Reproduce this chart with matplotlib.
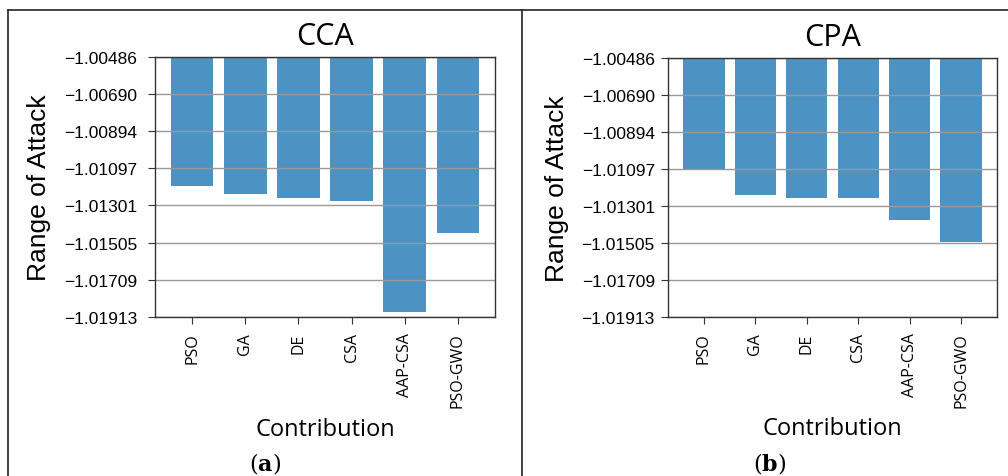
import numpy as np
import matplotlib
matplotlib.use('Agg')
import matplotlib.pyplot as plt
from matplotlib.lines import Line2D

plt.rcParams['mathtext.fontset'] = 'dejavuserif'

methods = ['PSO', 'GA', 'DE', 'CSA', 'AAP-CSA', 'PSO-GWO']
cca = [-1.01194, -1.01238, -1.01260, -1.01276, -1.01886, -1.01452]
cpa = [-1.01095, -1.01243, -1.01260, -1.01260, -1.01381, -1.01501]
yticks = [-1.00486, -1.00690, -1.00894, -1.01097, -1.01301, -1.01505, -1.01709, -1.01913]
ytick_labels = ['\u2212%.5f' % abs(v) for v in yticks]

W, H = 1008, 477
fig = plt.figure(figsize=(W / 100, H / 100), dpi=100)


def px(x0, y0, x1, y1):
    # pixel box -> figure fraction [left, bottom, width, height]
    return [x0 / W, 1 - y1 / H, (x1 - x0) / W, (y1 - y0) / H]


def panel(rect, vals, title, ypad, label_x):
    ax = fig.add_axes(rect)
    x = np.arange(len(methods))
    ax.bar(x, vals, width=0.8, color='#1f77b4', alpha=0.8, linewidth=0)
    ax.set_xlim(-0.7, len(methods) - 0.3)
    ax.set_ylim(yticks[-1], yticks[0])
    ax.set_yticks(yticks)
    ax.set_yticklabels(ytick_labels, family='Liberation Sans', fontsize=12.5)
    ax.set_xticks(x)
    ax.set_xticklabels(methods, rotation=90, family='Open Sans', fontsize=11.5)
    ax.tick_params(axis='y', pad=ypad, length=5, color='#333333')
    ax.tick_params(axis='x', pad=6, length=5, color='#333333')
    ax.yaxis.grid(True, color='#999999', linewidth=1.0)
    for s in ax.spines.values():
        s.set_color('#333333')
        s.set_linewidth(1.0)
    ax.set_title(title, family='Open Sans', fontsize=22, y=1.08, pad=0, va='center')
    ax.set_ylabel('Range of Attack', family='Liberation Sans', fontsize=19)
    ax.yaxis.set_label_coords(label_x, 0.5)
    ax.set_xlabel('Contribution', family='Open Sans', fontsize=17)
    ax.xaxis.label.set_va('center')
    ax.xaxis.set_label_coords(0.5, -0.43)
    return ax


panel(px(155, 58, 495, 318), cca, 'CCA', 8, -0.305)
panel(px(668, 59, 997, 318), cpa, 'CPA', 4.5, -0.30)

fig.text(265 / W, 1 - 464 / H, r'($\mathbf{a}$)', ha='center', va='center',
         fontsize=16, family='DejaVu Serif')
fig.text(770 / W, 1 - 464 / H, r'($\mathbf{b}$)', ha='center', va='center',
         fontsize=16, family='DejaVu Serif')

# outer frame of the figure
ytop = 1 - 10.5 / H
fig.add_artist(Line2D([8 / W, 8 / W], [0, ytop], color='#222222', linewidth=1.2))
fig.add_artist(Line2D([8 / W, 1], [ytop, ytop], color='#222222', linewidth=1.2))
fig.add_artist(Line2D([522 / W, 522 / W], [0, ytop], color='#222222', linewidth=1.2))

fig.savefig('out.png', dpi=100)
